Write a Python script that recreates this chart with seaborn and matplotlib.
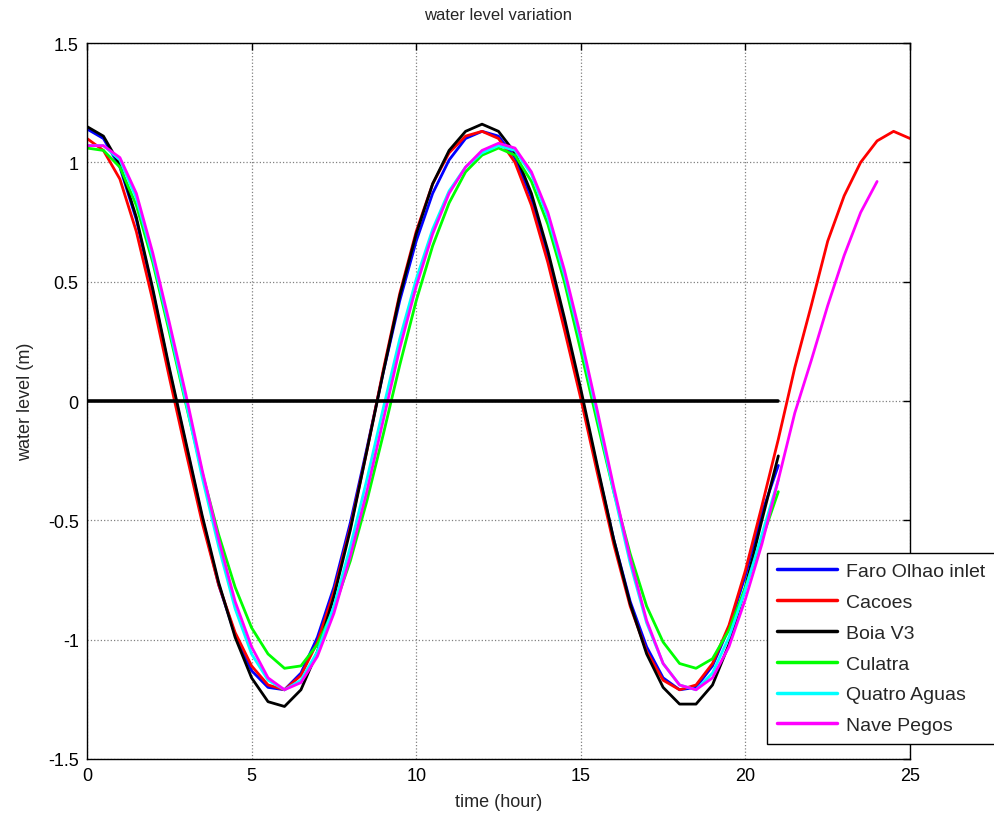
import numpy as np
import pandas as pd
import seaborn as sns
import matplotlib
matplotlib.use("Agg")
import matplotlib.pyplot as plt

# time axis (hours), half-hour steps
t21 = [i * 0.5 for i in range(43)]   # 0 .. 21
t24 = [i * 0.5 for i in range(49)]   # 0 .. 24
t25 = [i * 0.5 for i in range(51)]   # 0 .. 25

faro = [1.14, 1.10, 0.98, 0.76, 0.46, 0.13, -0.18, -0.49, -0.77, -0.98, -1.13, -1.20, -1.21,
        -1.14, -0.99, -0.78, -0.51, -0.20, 0.12, 0.42, 0.67, 0.87, 1.01, 1.10, 1.13, 1.11,
        1.02, 0.85, 0.61, 0.33, 0.03, -0.28, -0.58, -0.84, -1.03, -1.16, -1.21, -1.20, -1.11,
        -0.95, -0.73, -0.47, -0.27]

cacoes = [1.10, 1.05, 0.93, 0.71, 0.42, 0.10, -0.21, -0.51, -0.77, -0.97, -1.11, -1.19, -1.21,
          -1.15, -1.01, -0.80, -0.53, -0.21, 0.13, 0.45, 0.71, 0.91, 1.04, 1.11, 1.13, 1.10,
          1.00, 0.82, 0.58, 0.30, 0.01, -0.30, -0.60, -0.86, -1.05, -1.17, -1.21, -1.19, -1.10,
          -0.94, -0.71, -0.44, -0.16, 0.14, 0.40, 0.67, 0.86, 1.00, 1.09, 1.13, 1.10]

boia = [1.15, 1.11, 0.99, 0.77, 0.47, 0.14, -0.17, -0.48, -0.76, -0.99, -1.16, -1.26, -1.28,
        -1.21, -1.05, -0.82, -0.54, -0.21, 0.12, 0.44, 0.70, 0.91, 1.05, 1.13, 1.16, 1.13,
        1.04, 0.87, 0.63, 0.35, 0.05, -0.27, -0.58, -0.85, -1.06, -1.20, -1.27, -1.27, -1.19,
        -1.02, -0.78, -0.50, -0.23]

culatra = [1.06, 1.05, 0.98, 0.82, 0.58, 0.29, -0.01, -0.30, -0.56, -0.78, -0.95, -1.06, -1.12,
           -1.11, -1.02, -0.87, -0.67, -0.42, -0.14, 0.15, 0.42, 0.65, 0.83, 0.96, 1.03, 1.06,
           1.03, 0.92, 0.74, 0.50, 0.21, -0.09, -0.38, -0.64, -0.86, -1.01, -1.10, -1.12, -1.08,
           -0.96, -0.78, -0.58, -0.38]

quatro = [1.07, 1.07, 1.01, 0.85, 0.60, 0.31, 0.00, -0.32, -0.61, -0.87, -1.06, -1.17, -1.21,
          -1.17, -1.05, -0.86, -0.61, -0.33, -0.03, 0.26, 0.51, 0.72, 0.88, 0.98, 1.04, 1.07,
          1.05, 0.95, 0.77, 0.53, 0.25, -0.06, -0.38, -0.68, -0.93, -1.10, -1.19, -1.21, -1.14,
          -0.99, -0.79, -0.56, -0.33]

nave = [1.07, 1.07, 1.02, 0.87, 0.62, 0.33, 0.03, -0.29, -0.58, -0.84, -1.03, -1.16, -1.21,
        -1.18, -1.07, -0.89, -0.65, -0.38, -0.08, 0.22, 0.48, 0.70, 0.87, 0.98, 1.05, 1.08,
        1.06, 0.96, 0.79, 0.55, 0.27, -0.04, -0.36, -0.66, -0.92, -1.10, -1.19, -1.21, -1.16,
        -1.03, -0.83, -0.60, -0.33, -0.05, 0.17, 0.40, 0.61, 0.79, 0.92]

zero_t = [0, 21]
zero_v = [0, 0]

names = ["Faro Olhao inlet", "Cacoes", "Boia V3", "Culatra", "Quatro Aguas", "Nave Pegos"]
colors = ["#0000ff", "#ff0000", "#000000", "#00ff00", "#00ffff", "#ff00ff"]
series = [(t21, faro), (t25, cacoes), (t21, boia), (t21, culatra), (t21, quatro), (t24, nave)]

frames = []
for name, (t, v) in zip(names, series):
    frames.append(pd.DataFrame({"time": t, "level": v, "station": name}))
df = pd.concat(frames, ignore_index=True)

sns.set_style("white")
plt.rcParams["font.family"] = ["Liberation Sans", "DejaVu Sans"]
plt.rcParams["xtick.direction"] = "in"
plt.rcParams["ytick.direction"] = "in"

fig = plt.figure(figsize=(9.95, 8.2), dpi=100)
ax = fig.add_axes([0.0874, 0.0732, 0.8272, 0.8731])

sns.lineplot(data=df, x="time", y="level", hue="station", hue_order=names,
             palette=dict(zip(names, colors)), linewidth=2, sort=False,
             estimator=None, ax=ax)
sns.lineplot(x=zero_t, y=zero_v, color="black", linewidth=2.6, ax=ax, legend=False)

ax.set_xlim(0, 25)
ax.set_ylim(-1.5, 1.5)
ax.set_xticks([0, 5, 10, 15, 20, 25])
ax.set_yticks([-1.5, -1, -0.5, 0, 0.5, 1, 1.5])
ax.set_yticklabels(["-1.5", "-1", "-0.5", "0", "0.5", "1", "1.5"])
ax.tick_params(axis="both", which="both", top=True, right=True, length=5,
               width=1, labelsize=13, colors="black", pad=6)
ax.grid(True, linestyle=":", color="#808080", linewidth=0.9)
for s in ax.spines.values():
    s.set_color("black")
    s.set_linewidth(1)

ax.set_title("water level variation", fontsize=12, pad=17)
ax.set_xlabel("time (hour)", fontsize=13, labelpad=6)
ax.set_ylabel("water level (m)", fontsize=13, labelpad=10)

leg = ax.legend(loc="lower left", bbox_to_anchor=(0.826, 0.021), fontsize=14,
                frameon=True, fancybox=False, framealpha=1, edgecolor="black",
                handlelength=3.1, handletextpad=0.45, borderpad=0.5,
                labelspacing=0.68, borderaxespad=0)
leg.get_frame().set_linewidth(1)
leg.set_zorder(5)
for line in leg.get_lines():
    line.set_linewidth(2.5)

fig.savefig("out.png", dpi=100)
